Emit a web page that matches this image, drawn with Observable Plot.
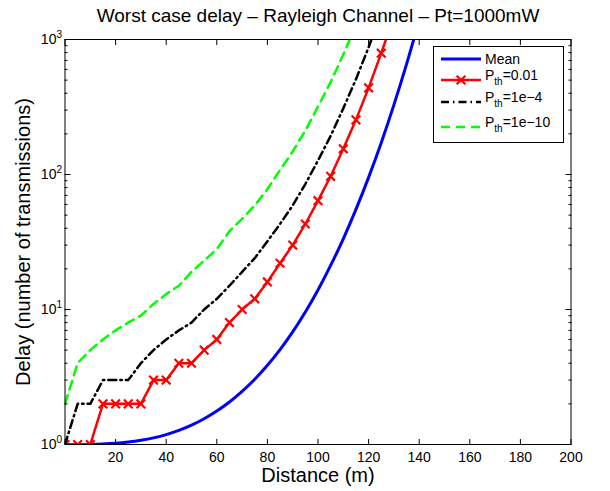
<!DOCTYPE html>
<html>
<head>
<meta charset="utf-8">
<script src="https://cdn.jsdelivr.net/npm/d3@7"></script>
<script src="https://cdn.jsdelivr.net/npm/@observablehq/plot@0.6"></script>
<style>
  body { margin: 0; background: #fff; font-family: "Liberation Sans", Arial, sans-serif; }
  #wrap { position: relative; width: 610px; height: 491px; }
  #legend { position: absolute; left: 0; top: 0; pointer-events: none; }
</style>
</head>
<body>
<div id="wrap"></div>
<script>
// ---- Data ----
const title = "Worst case delay \u2013 Rayleigh Channel \u2013 Pt=1000mW";
const xLabel = "Distance (m)";
const yLabel = "Delay (number of transmissions)";

const distance = [0,5,10,15,20,25,30,35,40,45,50,55,60,65,70,75,80,85,90,95,100,105,110,115,120,125,130,135,140];

const meanDelay = [1,1.0003,1.0026,1.009,1.021,1.042,1.074,1.12,1.184,1.271,1.39,1.551,1.767,2.063,2.47,3.04,3.86,5.05,6.83,9.59,13.96,21.2,33.4,55.1,95.2,172,328,657,1387];
const delayP001 = [1,1,1,2,2,2,2,3,3,4,4,5,6,8,10,12,16,22,30,43,64,97,155,254,438,792,1480];
const delayP1e4 = [1,2,2,3,3,3,4,5,6,7,8,10,12,15,19,24,32,43,59,85,127,193,309,507,875,1583];
const delayP1e10 = [2,4,5,6,7,8,9,11,13,15,19,23,28,38,47,59,78,108,148,212,318,483,773,1268];

const seriesNames = ["Mean", "0.01", "1e\u22124", "1e\u221210"];
const seriesColors = ["#0000ff", "#ff0000", "#000000", "#00ff00"];

const xTickLabels = [20,40,60,80,100,120,140,160,180,200];
const xTickAll = [0,20,40,60,80,100,120,140,160,180,200];
const yMajor = [1,10,100,1000];
const yExponents = ["0","1","2","3"];
const yMinor = [2,3,4,5,6,7,8,9,20,30,40,50,60,70,80,90,200,300,400,500,600,700,800,900];

// ---- Build rows ----
const rows = (vals) => vals.map((v, i) => ({d: distance[i], v}));
const meanRows = rows(meanDelay);
const p001Rows = rows(delayP001);
const p1e4Rows = rows(delayP1e4);
const p1e10Rows = rows(delayP1e10);

const font = "Liberation Sans, Arial, Helvetica, sans-serif";
const blank = () => "";

const chart = Plot.plot({
  width: 610,
  height: 491,
  marginLeft: 64.5,
  marginRight: 39.5,
  marginTop: 39,
  marginBottom: 47,
  style: {fontFamily: font, fontSize: "14px", color: "#000", background: "#fff", overflow: "visible"},
  x: {domain: [0, 200]},
  y: {type: "log", domain: [1, 1000]},
  marks: [
    Plot.line(meanRows, {x: "d", y: "v", stroke: seriesColors[0], strokeWidth: 3, curve: "monotone-x", clip: true}),
    Plot.line(p001Rows, {x: "d", y: "v", stroke: seriesColors[1], strokeWidth: 2.5, clip: true}),
    Plot.dot(p001Rows, {x: "d", y: "v", symbol: "times", r: 4, stroke: seriesColors[1], strokeWidth: 2.2, clip: true}),
    Plot.line(p1e4Rows, {x: "d", y: "v", stroke: seriesColors[2], strokeWidth: 2.5, strokeDasharray: "8,4,1.5,4", clip: true}),
    Plot.line(p1e10Rows, {x: "d", y: "v", stroke: seriesColors[3], strokeWidth: 2.5, strokeDasharray: "9,6", clip: true}),
    Plot.frame({stroke: "#000", strokeWidth: 1}),
    // inside ticks
    Plot.axisX({anchor: "bottom", ticks: xTickAll, tickSize: -5, tickFormat: blank, label: null}),
    Plot.axisX({anchor: "top", ticks: xTickAll, tickSize: -5, tickFormat: blank, label: null}),
    Plot.axisY({anchor: "left", ticks: yMajor, tickSize: -6, tickFormat: blank, label: null}),
    Plot.axisY({anchor: "left", ticks: yMinor, tickSize: -3, tickFormat: blank, label: null}),
    Plot.axisY({anchor: "right", ticks: yMajor, tickSize: -6, tickFormat: blank, label: null}),
    Plot.axisY({anchor: "right", ticks: yMinor, tickSize: -3, tickFormat: blank, label: null}),
    // tick labels
    Plot.axisX({anchor: "bottom", ticks: xTickLabels, tickSize: 0, tickPadding: 8, label: null, fontSize: 14}),
    Plot.axisY({anchor: "left", ticks: yMajor, tickSize: 0, tickPadding: 3, tickFormat: () => "10", label: null, fontSize: 14}),
    // titles
    Plot.text([title], {frameAnchor: "top", lineAnchor: "middle", textAnchor: "middle", dy: -24, fontSize: 19}),
    Plot.text([xLabel], {frameAnchor: "bottom", lineAnchor: "middle", textAnchor: "middle", dy: 31, fontSize: 20}),
    Plot.text([yLabel], {frameAnchor: "left", lineAnchor: "middle", textAnchor: "middle", dx: -41, rotate: -90, fontSize: 20})
  ]
});

// superscripts on y tick labels
const svgNS = "http://www.w3.org/2000/svg";
const labelTexts = Array.from(chart.querySelectorAll("text")).filter(t => t.textContent === "10");
labelTexts.forEach((t, i) => {
  const sup = document.createElementNS(svgNS, "tspan");
  sup.setAttribute("dy", "-0.55em");
  sup.setAttribute("font-size", "10");
  sup.textContent = yExponents[i];
  t.appendChild(sup);
});

document.getElementById("wrap").appendChild(chart);

// ---- Legend (overlay) ----
const lg = d3.select("#wrap").append("svg")
  .attr("id", "legend").attr("width", 610).attr("height", 491)
  .style("font-family", font);
lg.append("rect").attr("x", 433.5).attr("y", 46.5).attr("width", 130).attr("height", 96)
  .attr("fill", "#fff").attr("stroke", "#000").attr("stroke-width", 1);
const rowsY = [59, 80, 102, 127];
const dashes = [null, null, "8,4,1.5,4", "9,6"];
const widths = [3, 2.5, 2.5, 2.5];
seriesNames.forEach((name, i) => {
  lg.append("line").attr("x1", 441).attr("x2", 481).attr("y1", rowsY[i]).attr("y2", rowsY[i])
    .attr("stroke", seriesColors[i]).attr("stroke-width", widths[i])
    .attr("stroke-dasharray", dashes[i]);
  const t = lg.append("text").attr("x", 485).attr("y", rowsY[i] + (i === 0 ? 4.5 : 0)).attr("font-size", 14);
  if (i === 0) {
    t.text(name);
  } else {
    t.append("tspan").text("P");
    t.append("tspan").attr("dy", 5).attr("font-size", 10).text("th");
    t.append("tspan").attr("dy", -5).text("=" + name);
  }
});
lg.append("path").attr("d", d3.symbol(d3.symbolTimes, 4 * 4 * Math.PI)()).attr("transform", "translate(461,80)")
  .attr("fill", "none").attr("stroke", seriesColors[1]).attr("stroke-width", 2.2);
</script>
</body>
</html>
